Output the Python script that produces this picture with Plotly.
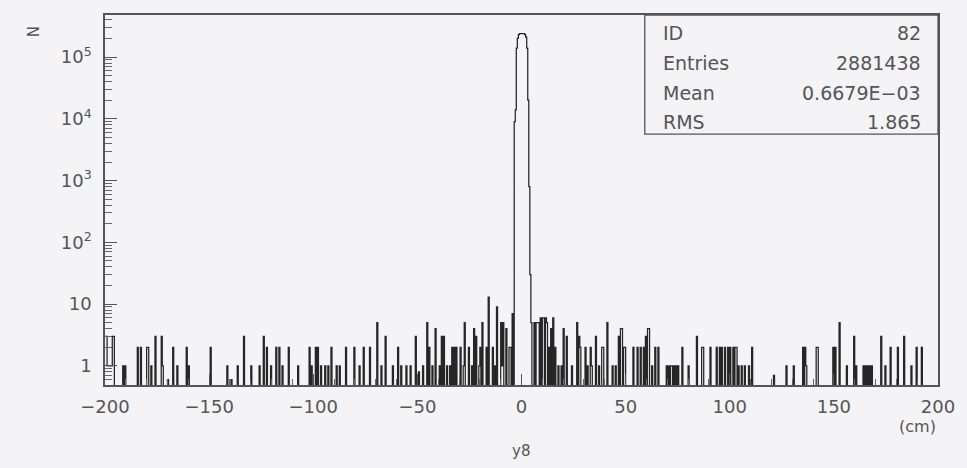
import numpy as np
import plotly.graph_objects as go

# Histogram binning (cm)
X_MIN, X_MAX, BIN_W = -200.0, 200.0, 0.5

# Central peak: bin centres and contents
peak_x = [-3.25, -2.75, -2.25, -1.75, -1.25, -0.75, -0.25, 0.25, 0.75,
          1.25, 1.75, 2.25, 2.75, 3.25, 3.75, 4.25]
peak_n = [9000, 14000, 140000, 200000, 230000, 240000, 245000, 245000, 245000,
          240000, 230000, 210000, 140000, 20000, 800, 30]

# Sparse background bins: positions (cm) and contents
noise_x = [
    -199.75, -199.25, -198.75, -198.25, -197.75, -197.25, -196.75, -196.25, -195.75,
    -191.5, -190.2, -184.3, -182.9, -180.0, -179.3, -177.6, -176.0, -172.8, -172.1,
    -169.7, -167.3, -165.4, -160.9, -159.6, -149.2, -141.2, -139.3, -136.4, -133.4,
    -129.7, -125.7, -123.7, -122.1, -120.1, -117.8, -116.2, -115.0, -111.7, -107.4,
    -101.8, -100.6, -98.6, -97.8, -96.2, -94.5, -93.0, -91.1, -88.8, -87.4, -84.2,
    -80.2, -78.0, -75.8, -72.6, -69.1, -67.5, -65.1, -62.0, -59.2, -57.6, -55.5,
    -53.1, -51.0, -49.1, -47.5, -45.1, -44.3, -43.0, -41.4, -39.5, -38.2, -37.1,
    -35.8, -34.3, -33.1, -32.3, -31.5, -29.1, -28.0, -27.1, -25.1, -24.0, -22.8,
    -21.7, -20.5, -19.6, -18.8, -17.0, -15.6, -14.0, -13.0, -11.9, -10.0, -9.3,
    -8.7, -7.1, -6.0, -5.2, -4.3,
    4.75, 6.0, 7.1, 7.6, 8.4, 9.2, 10.0, 10.8, 11.6, 12.4, 13.2, 14.0, 15.2, 16.4,
    17.5, 19.0, 20.4, 21.9, 24.0, 26.7, 27.9, 28.4, 30.7, 31.9, 33.1, 33.5, 35.5,
    37.0, 38.7, 39.2, 41.1, 43.5, 45.0, 46.7, 47.5, 48.3, 49.1, 49.9, 53.6, 55.5,
    57.1, 58.7, 59.5, 60.6, 61.1, 62.5, 64.3, 65.9, 69.9, 70.7, 71.5, 72.3, 73.1,
    74.2, 75.4, 77.0, 80.2, 84.2, 86.6, 87.4, 90.6, 93.8, 95.4, 96.2, 97.8, 99.4,
    100.2, 101.8, 102.6, 103.4, 104.2, 105.8, 107.4, 109.0, 110.6, 121.4, 127.3,
    130.5, 135.3, 136.4, 136.9, 141.7, 142.2, 149.7, 150.5, 152.9, 156.1, 159.8,
    160.9, 164.1, 165.1, 166.1, 167.0, 168.0, 172.8, 174.5, 177.3, 180.8, 183.6,
    187.2, 189.6, 192.3,
]
noise_n = [
    3, 3, 1, 1, 1, 1, 1, 3, 3,
    1, 1, 2, 2, 2, 2, 1, 3, 3, 1,
    0.6, 2, 1, 2, 1, 2, 1, 0.6, 1, 3,
    1, 1, 3, 2, 1, 2, 2, 1, 2, 1,
    2, 1, 2, 2, 1, 1, 1, 2, 1, 1, 2,
    2, 1, 2, 2, 5, 1, 3, 1, 2, 1, 1,
    1, 3, 0.8, 1, 5, 2, 1, 4, 1, 3, 3,
    1, 1, 2, 2, 2, 2, 1, 5, 2, 1, 4,
    3, 1, 2, 5, 2, 13, 2, 1, 9, 5, 1,
    5, 4, 2, 2, 7,
    5, 5, 5, 5, 5, 6, 6, 6, 6, 5, 2, 4, 6, 2,
    1, 1, 4, 3, 1, 5, 3, 2, 2, 1, 2, 1, 3,
    1, 2, 2, 5, 1, 1, 3, 4, 4, 2, 2, 2, 2,
    2, 2, 3, 4, 4, 1, 2, 2, 1, 1, 1, 1, 1,
    1, 1, 2, 1, 3, 2, 2, 2, 2, 2, 2, 2, 2,
    2, 2, 2, 2, 1, 1, 1, 1, 2, 0.7, 1,
    1, 2, 2, 1, 2, 2, 2, 2, 5, 1, 3,
    1, 1, 1, 1, 1, 1, 3, 1, 2, 2, 3,
    1, 2, 2,
]

# Statistics box
stat_names = ["ID", "Entries", "Mean", "RMS"]
stat_vals = ["82", "2881438", "0.6679E\u221203", "1.865"]

# Axis ticks
x_ticks = [-200, -150, -100, -50, 0, 50, 100, 150, 200]
y_ticks = [1, 10, 100, 1000, 10000, 100000]
y_tick_text = ["1", "10", "10<sup>2</sup>", "10<sup>3</sup>", "10<sup>4</sup>", "10<sup>5</sup>"]

# ---- fill the histogram ----
n_bins = int(round((X_MAX - X_MIN) / BIN_W))
counts = np.zeros(n_bins)
for xs, ns in ((noise_x, noise_n), (peak_x, peak_n)):
    idx = np.floor((np.asarray(xs) - X_MIN) / BIN_W).astype(int)
    np.maximum.at(counts, idx, np.asarray(ns, dtype=float))

edges = X_MIN + BIN_W * np.arange(n_bins + 1)
# empty bins sit below the visible log range so the outline runs off the bottom
plot_counts = np.where(counts > 0, counts, 1e-2)
step_x = np.repeat(edges, 2)[1:-1]
step_y = np.repeat(plot_counts, 2)

INK = "#262626"
TXT = "#555555"
FONT = "DejaVu Sans"
BG = "#f4f3f5"

fig = go.Figure()
fig.add_trace(go.Scatter(x=step_x, y=step_y, mode="lines",
                         line=dict(color=INK, width=1.25), hoverinfo="skip",
                         showlegend=False))

minor_y = [m * 10.0 ** k for k in range(-1, 6) for m in range(2, 10)]
minor_y = [v for v in minor_y if 0.49 <= v <= 4.8e5]

fig.update_layout(
    width=967, height=468,
    margin=dict(l=105, r=26, t=15, b=83),
    paper_bgcolor=BG, plot_bgcolor=BG,
    font=dict(family=FONT, color=TXT, size=18),
    xaxis=dict(range=[X_MIN, X_MAX], showgrid=False, zeroline=False,
               showline=True, linecolor="#555", linewidth=1.5, mirror=True,
               tickvals=x_ticks,
               ticktext=[str(v).replace("-", "\u2212") for v in x_ticks],
               ticks="inside", ticklen=11, tickcolor="#555", tickwidth=1,
               minor=dict(dtick=10, ticks="inside", ticklen=6, tickcolor="#666"),
               ticklabelstandoff=5,
               tickfont=dict(size=18, color=TXT, family=FONT)),
    yaxis=dict(type="log", range=[np.log10(0.49), np.log10(4.8e5)],
               showgrid=False, zeroline=False,
               showline=True, linecolor="#555", linewidth=1.5, mirror=True,
               tickvals=y_ticks, ticktext=y_tick_text,
               ticks="inside", ticklen=12, tickcolor="#555", tickwidth=1,
               minor=dict(tickvals=minor_y, ticks="inside", ticklen=7, tickcolor="#666"),
               ticklabelstandoff=8,
               tickfont=dict(size=18, color=TXT, family=FONT)),
)

# statistics box
fig.add_shape(type="rect", xref="paper", yref="paper",
              x0=0.648, x1=1.0, y0=0.678, y1=1.0,
              line=dict(color="#555", width=1.3), fillcolor=BG, layer="above")
row_y = [0.951, 0.870, 0.789, 0.711]
for name, val, yy in zip(stat_names, stat_vals, row_y):
    fig.add_annotation(x=0.667, y=yy, xref="paper", yref="paper", text=name,
                       showarrow=False, xanchor="left", yanchor="middle",
                       font=dict(size=19, color=TXT, family=FONT))
    fig.add_annotation(x=0.982, y=yy, xref="paper", yref="paper", text=val,
                       showarrow=False, xanchor="right", yanchor="middle",
                       font=dict(size=19, color=TXT, family=FONT))

# axis titles
fig.add_annotation(x=0.4988, y=-0.208, xref="paper", yref="paper", text="y8",
                   showarrow=False, font=dict(size=15, color=TXT, family=FONT))
fig.add_annotation(x=1.0, y=-0.143, xref="paper", yref="paper", text="(cm)",
                   showarrow=False, xanchor="right",
                   font=dict(size=16, color=TXT, family=FONT))
fig.add_annotation(x=-0.099, y=0.975, xref="paper", yref="paper", text="N",
                   showarrow=False, textangle=-90,
                   font=dict(size=15, color=TXT, family=FONT))

fig.write_html("out.html")
